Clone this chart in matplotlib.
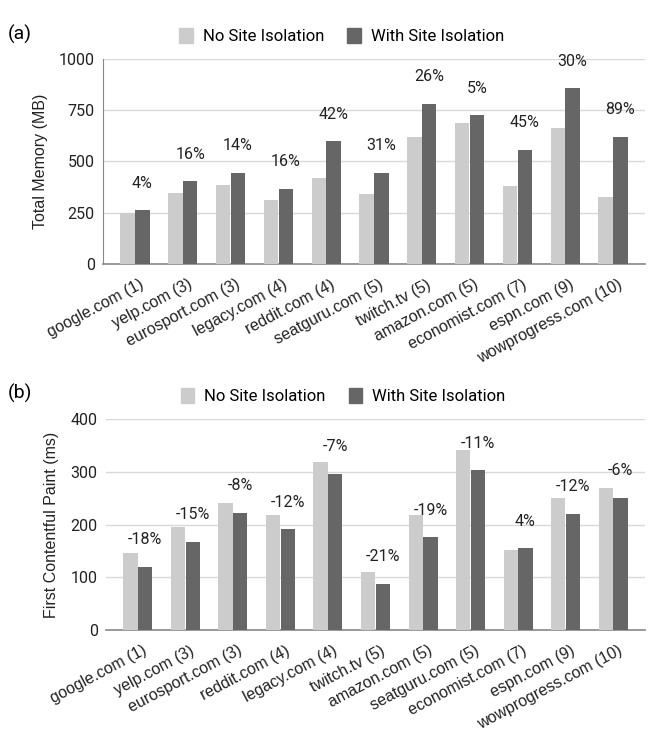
import numpy as np
import matplotlib
matplotlib.use('Agg')
import matplotlib.pyplot as plt
import matplotlib.transforms as mtrans
from matplotlib.patches import Patch

plt.rcParams['font.family'] = ['Roboto', 'DejaVu Sans']

# memory chart (a)
mem_sites = ['google.com (1)', 'yelp.com (3)', 'eurosport.com (3)', 'legacy.com (4)',
             'reddit.com (4)', 'seatguru.com (5)', 'twitch.tv (5)', 'amazon.com (5)',
             'economist.com (7)', 'espn.com (9)', 'wowprogress.com (10)']
mem_no = [249, 346, 387, 314, 420, 340, 620, 688, 382, 662, 328]
mem_with = [262, 403, 446, 366, 598, 446, 782, 725, 556, 857, 620]
mem_pct = ['4%', '16%', '14%', '16%', '42%', '31%', '26%', '5%', '45%', '30%', '89%']

# first contentful paint chart (b)
fcp_sites = ['google.com (1)', 'yelp.com (3)', 'eurosport.com (3)', 'reddit.com (4)',
             'legacy.com (4)', 'twitch.tv (5)', 'amazon.com (5)', 'seatguru.com (5)',
             'economist.com (7)', 'espn.com (9)', 'wowprogress.com (10)']
fcp_no = [147, 196, 240, 218, 318, 110, 218, 341, 152, 251, 269]
fcp_with = [120, 167, 222, 191, 296, 88, 176, 303, 155, 220, 251]
fcp_pct = ['-18%', '-15%', '-8%', '-12%', '-7%', '-21%', '-19%', '-11%', '4%', '-12%', '-6%']

LIGHT = '#cccccc'
DARK = '#666666'
GRID = '#d9d9d9'
TXT = '#222222'


def draw_panel(fig, ax, sites, no_vals, with_vals, pcts, ymax, yticks, ylabel):
    x = np.arange(len(sites))
    w = 0.30
    ax.bar(x - 0.155, no_vals, w, color=LIGHT, zorder=3)
    ax.bar(x + 0.155, with_vals, w, color=DARK, zorder=3)
    for xi, v, p in zip(x, with_vals, pcts):
        ax.annotate(p, (xi + 0.155, v), xytext=(0, 19.5), textcoords='offset points',
                    ha='center', va='center', fontsize=11.5, color=TXT)
    ax.set_xlim(-0.67, len(sites) - 0.33)
    ax.set_ylim(0, ymax)
    ax.set_yticks(yticks)
    ax.yaxis.grid(True, color=GRID, lw=1, zorder=0)
    ax.set_axisbelow(True)
    for s in ['top', 'right']:
        ax.spines[s].set_visible(False)
    ax.spines['left'].set_color('#888888')
    ax.spines['bottom'].set_color('#888888')
    ax.spines['bottom'].set_linewidth(1.2)
    ax.tick_params(axis='both', length=0, labelsize=11.5, colors=TXT)
    ax.tick_params(axis='y', pad=6)
    ax.tick_params(axis='x', pad=14)
    ax.set_xticks(x)
    ax.set_xticklabels(sites, rotation=28, ha='right', va='center', rotation_mode='anchor',
                       fontsize=11.5, family=['Liberation Sans', 'DejaVu Sans'])
    shift = mtrans.ScaledTranslation(8 / 100, 0, fig.dpi_scale_trans)
    for lab in ax.get_xticklabels():
        lab.set_transform(lab.get_transform() + shift)
    ax.set_ylabel(ylabel, fontsize=11.5, color=TXT, labelpad=8,
                  family=['Liberation Sans', 'DejaVu Sans'])
    handles = [Patch(color=LIGHT, label='No Site Isolation'),
               Patch(color=DARK, label='With Site Isolation')]
    ax.legend(handles=handles, loc='lower center', bbox_to_anchor=(0.44, 1.04), ncol=2,
              frameon=False, fontsize=12, handlelength=0.8, handleheight=1.0,
              handletextpad=0.6, columnspacing=1.4, borderaxespad=0)


fig = plt.figure(figsize=(6.72, 7.51), dpi=100)
ax1 = fig.add_axes([103 / 672, 0.6485, 542 / 672, 0.273])
ax2 = fig.add_axes([106 / 672, 0.161, 539 / 672, 0.281])

draw_panel(fig, ax1, mem_sites, mem_no, mem_with, mem_pct, 1000, [0, 250, 500, 750, 1000],
           'Total Memory (MB)')
draw_panel(fig, ax2, fcp_sites, fcp_no, fcp_with, fcp_pct, 400, [0, 100, 200, 300, 400],
           'First Contentful Paint (ms)')
ax2.spines['left'].set_visible(False)

fig.text(0.012, 1 - 34 / 751, '(a)', fontsize=14, va='center', ha='left')
fig.text(0.012, 1 - 393 / 751, '(b)', fontsize=14, va='center', ha='left')

fig.savefig('out.png', dpi=100)
